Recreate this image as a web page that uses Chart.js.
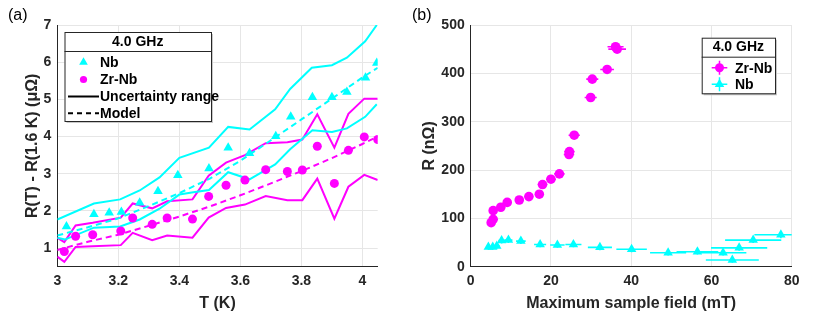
<!DOCTYPE html>
<html>
<head>
<meta charset="utf-8">
<script src="https://cdn.jsdelivr.net/npm/chart.js@4.4.1/dist/chart.umd.min.js"></script>
<style>
  html, body { margin: 0; padding: 0; background: #fff; }
  #wrap { position: relative; width: 831px; height: 312px; }
  #c1 { position: absolute; left: 0; top: 0; }
  #c2 { position: absolute; left: 405px; top: 0; }
</style>
</head>
<body>
<div id="wrap">
  <canvas id="c1" width="405" height="312" style="width:405px;height:312px"></canvas>
  <canvas id="c2" width="426" height="312" style="width:426px;height:312px"></canvas>
</div>
<script>
// ---- panel (a): R(T) - R(1.6 K) vs T ----
const nbT = [3.03, 3.12, 3.17, 3.21, 3.27, 3.33, 3.395, 3.497, 3.56, 3.63, 3.716, 3.765, 3.836, 3.90, 3.949, 4.01, 4.047];
const nbR = [1.58, 1.91, 1.95, 1.97, 2.22, 2.53, 2.96, 3.14, 3.70, 3.55, 4.01, 4.53, 5.06, 5.06, 5.20, 5.58, 5.98];
const zrT = [3.023, 3.06, 3.116, 3.208, 3.247, 3.311, 3.36, 3.443, 3.496, 3.553, 3.615, 3.683, 3.754, 3.803, 3.852, 3.908, 3.954, 4.006, 4.05];
const zrR = [0.91, 1.32, 1.36, 1.46, 1.81, 1.64, 1.81, 1.78, 2.39, 2.69, 2.83, 3.11, 3.06, 3.10, 3.74, 2.74, 3.63, 3.99, 3.92];

const nbUpT = [3.0, 3.12, 3.206, 3.27, 3.335, 3.40, 3.497, 3.56, 3.63, 3.714, 3.763, 3.834, 3.90, 3.949, 4.009, 4.047];
const nbUpper = [1.77, 2.20, 2.31, 2.55, 2.90, 3.43, 3.70, 4.26, 4.19, 4.73, 5.28, 5.85, 5.92, 6.12, 6.56, 7.0];
const nbLowT = [3.0, 3.025, 3.12, 3.206, 3.27, 3.335, 3.40, 3.446, 3.497, 3.56, 3.63, 3.714, 3.763, 3.836, 3.90, 3.949, 4.009, 4.047];
const nbLower = [1.28, 1.23, 1.55, 1.58, 1.77, 2.06, 2.44, 2.50, 2.56, 3.04, 2.85, 3.25, 3.66, 4.17, 4.12, 4.22, 4.53, 4.87];

const zrLineT = [3.0, 3.023, 3.06, 3.116, 3.208, 3.247, 3.311, 3.36, 3.443, 3.496, 3.553, 3.615, 3.683, 3.754, 3.803, 3.852, 3.908, 3.954, 4.006, 4.05];
const zrUpper = [1.28, 1.16, 1.61, 1.68, 1.82, 2.20, 2.07, 2.26, 2.31, 2.95, 3.30, 3.50, 3.82, 3.85, 3.92, 4.60, 3.70, 4.61, 5.02, 5.02];
const zrLower = [0.77, 0.63, 1.03, 1.05, 1.08, 1.41, 1.21, 1.34, 1.28, 1.82, 2.08, 2.17, 2.40, 2.29, 2.29, 2.87, 1.79, 2.65, 2.97, 2.83];

const modelT = [3.0, 3.1, 3.2, 3.3, 3.4, 3.5, 3.6, 3.7, 3.8, 3.9, 4.0, 4.05];
const nbModel = [1.34, 1.56, 1.80, 2.13, 2.48, 2.87, 3.35, 3.90, 4.46, 5.02, 5.59, 5.85];
const zrModel = [0.95, 1.17, 1.36, 1.60, 1.85, 2.12, 2.42, 2.74, 3.07, 3.42, 3.80, 4.00];

const xTicksA = [3, 3.2, 3.4, 3.6, 3.8, 4];
const yTicksA = [1, 2, 3, 4, 5, 6, 7];

// ---- panel (b): R vs maximum sample field ----
const zrField = [5.1, 5.6, 5.6, 7.5, 9.1, 12.1, 14.5, 17.1, 17.9, 20.0, 22.1, 24.5, 24.6, 25.8, 29.9, 30.3, 34.0, 36.1, 36.5];
const zrRes = [91, 98, 116, 123, 133, 138, 145, 150, 170, 181, 192, 232, 238, 272, 350, 388, 408, 455, 450];
const zrFieldErr = [0.8, 0.8, 0.8, 1, 1, 1, 1.1, 1.1, 1.2, 1.2, 1.3, 1.3, 1.3, 1.4, 1.5, 1.5, 1.7, 2, 2.2];
const zrResErr = [6, 6, 6, 6, 6, 6, 6, 6, 6, 6, 6, 7, 7, 7, 7, 7, 7, 8, 8];

const nbField = [4.4, 5.5, 6.5, 7.7, 9.4, 12.5, 17.3, 21.6, 25.6, 32.2, 40.1, 49.2, 56.5, 62.9, 65.2, 66.9, 70.4, 77.3];
const nbRes = [41, 41, 43, 54, 55, 53, 46, 45, 46, 40, 36, 29, 31, 29, 14, 39, 55, 66];
const nbFieldErr = [0.5, 0.6, 0.7, 0.8, 1, 1.2, 1.5, 1.8, 2, 3, 3.8, 4.5, 5.2, 5.8, 6.6, 7, 7, 6.6];
const nbResErr = [6, 6, 6, 6, 6, 6, 6, 6, 6, 6, 6, 6, 6, 6, 6, 6, 6, 7];

const xTicksB = [0, 20, 40, 60, 80];
const yTicksB = [0, 100, 200, 300, 400, 500];

const cyan = "#00ffff";
const magenta = "#ff00ff";
const ink = "#262626";
const FONT = "'Liberation Sans', Arial, sans-serif";

function xy(xs, ys) {
  return xs.map((x, i) => ({ x: x, y: ys[i] }));
}

function tickFont() {
  return { family: FONT, size: 14, weight: "bold" };
}

function axis(min, max, ticks, title, fit) {
  return {
    type: "linear",
    min: min,
    max: max,
    afterBuildTicks: (s) => { s.ticks = ticks.map((v) => ({ value: v })); },
    afterFit: fit,
    grid: { color: "#e6e6e6", drawTicks: false },
    border: { color: ink, width: 1 },
    ticks: { padding: 6, color: ink, font: tickFont(), callback: (v) => String(v) },
    title: { display: true, text: title, color: ink, padding: 0,
             font: { family: FONT, size: 16, weight: "bold", lineHeight: 1 } },
  };
}

// legend box in the MATLAB style, drawn on the canvas
function drawLegend(ctx, L) {
  ctx.save();
  ctx.fillStyle = "#c8c8c8";
  ctx.fillRect(L.x + 2, L.y + 2, L.w, L.h);
  ctx.fillStyle = "#fff";
  ctx.fillRect(L.x, L.y, L.w, L.h);
  ctx.strokeStyle = ink;
  ctx.lineWidth = 1;
  ctx.strokeRect(L.x + 0.5, L.y + 0.5, L.w, L.h);
  ctx.beginPath();
  ctx.moveTo(L.x, L.sep + 0.5);
  ctx.lineTo(L.x + L.w, L.sep + 0.5);
  ctx.stroke();

  ctx.fillStyle = "#000";
  ctx.font = "bold 14px " + FONT;
  ctx.textBaseline = "middle";
  ctx.textAlign = "center";
  ctx.fillText(L.title, L.x + L.w / 2, L.titleY);
  ctx.textAlign = "left";

  L.entries.forEach((e) => {
    const cx = (L.lineX0 + L.lineX1) / 2;
    ctx.strokeStyle = e.color;
    ctx.fillStyle = e.color;
    if (e.kind === "line" || e.kind === "dash" || e.bars) {
      ctx.lineWidth = e.bars ? 1.5 : 2;
      ctx.setLineDash(e.kind === "dash" ? [5, 4] : []);
      ctx.beginPath();
      ctx.moveTo(L.lineX0, e.y);
      ctx.lineTo(L.lineX1, e.y);
      if (e.bars) {
        ctx.moveTo(cx, e.y - 7);
        ctx.lineTo(cx, e.y + 7);
      }
      ctx.stroke();
      ctx.setLineDash([]);
    }
    if (e.kind === "triangle") {
      const r = e.r;
      ctx.beginPath();
      ctx.moveTo(cx, e.y - r);
      ctx.lineTo(cx + r * 0.866, e.y + r * 0.5);
      ctx.lineTo(cx - r * 0.866, e.y + r * 0.5);
      ctx.closePath();
      ctx.fill();
    }
    if (e.kind === "circle") {
      ctx.beginPath();
      ctx.arc(cx, e.y, e.r, 0, Math.PI * 2);
      ctx.fill();
    }
    ctx.fillStyle = "#000";
    ctx.fillText(e.text, L.textX, e.y + 1);
  });
  ctx.restore();
}

const decor = {
  id: "decor",
  afterDraw(chart, args, opts) {
    const ctx = chart.ctx;
    ctx.save();
    ctx.fillStyle = "#000";
    ctx.font = "16px " + FONT;
    ctx.textBaseline = "middle";
    ctx.textAlign = "left";
    ctx.fillText(opts.label, opts.labelX, 16);
    ctx.restore();
    drawLegend(ctx, opts.legend);
  },
};

const errorBars = {
  id: "errorBars",
  beforeDatasetsDraw(chart) {
    const ctx = chart.ctx;
    const xs = chart.scales.x;
    const ys = chart.scales.y;
    const a = chart.chartArea;
    ctx.save();
    ctx.beginPath();
    ctx.rect(a.left, a.top, a.right - a.left, a.bottom - a.top);
    ctx.clip();
    chart.data.datasets.forEach((ds) => {
      if (!ds.xErr) return;
      ctx.strokeStyle = ds.backgroundColor;
      ctx.lineWidth = 1.6;
      ctx.beginPath();
      ds.data.forEach((p, i) => {
        const px = xs.getPixelForValue(p.x);
        const py = ys.getPixelForValue(p.y);
        ctx.moveTo(xs.getPixelForValue(p.x - ds.xErr[i]), py);
        ctx.lineTo(xs.getPixelForValue(p.x + ds.xErr[i]), py);
        ctx.moveTo(px, ys.getPixelForValue(p.y - ds.yErr[i]));
        ctx.lineTo(px, ys.getPixelForValue(p.y + ds.yErr[i]));
      });
      ctx.stroke();
    });
    ctx.restore();
  },
};

function band(xs, ys, color, dash) {
  return { data: xy(xs, ys), showLine: true, borderColor: color, borderWidth: 2,
           borderDash: dash || [], pointRadius: 0, backgroundColor: color };
}

new Chart(document.getElementById("c1"), {
  type: "scatter",
  data: {
    datasets: [
      { data: xy(nbT, nbR), pointStyle: "triangle", pointRadius: 5.5, backgroundColor: cyan, borderWidth: 0 },
      { data: xy(zrT, zrR), pointStyle: "circle", pointRadius: 4.5, backgroundColor: magenta, borderWidth: 0 },
      band(nbUpT, nbUpper, cyan),
      band(nbLowT, nbLower, cyan),
      band(modelT, nbModel, cyan, [6, 4]),
      band(zrLineT, zrUpper, magenta),
      band(zrLineT, zrLower, magenta),
      band(modelT, zrModel, magenta, [6, 4]),
    ],
  },
  options: {
    responsive: false,
    animation: false,
    layout: { padding: { left: 25, top: 25, right: 27.3, bottom: 0 } },
    plugins: {
      legend: { display: false },
      tooltip: { enabled: false },
      decor: {
        label: "(a)",
        labelX: 8,
        legend: {
          x: 64.5, y: 32, w: 146.5, h: 89, sep: 51, title: "4.0 GHz", titleY: 42.5,
          lineX0: 68, lineX1: 99, textX: 100,
          entries: [
            { kind: "triangle", color: cyan, r: 5, y: 62.3, text: "Nb" },
            { kind: "circle", color: magenta, r: 3.6, y: 79.5, text: "Zr-Nb" },
            { kind: "line", color: "#000", y: 96.5, text: "Uncertainty range" },
            { kind: "dash", color: "#000", y: 113.3, text: "Model" },
          ],
        },
      },
    },
    scales: {
      x: axis(3, 4.05, xTicksA, "T (K)", (s) => { s.height = 45.3; }),
      y: axis(0.5, 7, yTicksA, "R(T) - R(1.6 K) (μΩ)", (s) => { s.width = 32.3; }),
    },
  },
  plugins: [decor],
});

new Chart(document.getElementById("c2"), {
  type: "scatter",
  data: {
    datasets: [
      { data: xy(zrField, zrRes), xErr: zrFieldErr, yErr: zrResErr, pointStyle: "circle",
        pointRadius: 4.8, backgroundColor: magenta, borderWidth: 0 },
      { data: xy(nbField, nbRes), xErr: nbFieldErr, yErr: nbResErr, pointStyle: "triangle",
        pointRadius: 5.5, backgroundColor: cyan, borderWidth: 0 },
    ],
  },
  options: {
    responsive: false,
    animation: false,
    layout: { padding: { left: 17, top: 25, right: 39.3, bottom: 0 } },
    plugins: {
      legend: { display: false },
      tooltip: { enabled: false },
      decor: {
        label: "(b)",
        labelX: 7,
        legend: {
          x: 296.7, y: 37.7, w: 73.3, h: 55.6, sep: 56.7, title: "4.0 GHz", titleY: 47.5,
          lineX0: 306.7, lineX1: 322.3, textX: 330,
          entries: [
            { kind: "circle", bars: true, color: magenta, r: 4.5, y: 67.7, text: "Zr-Nb" },
            { kind: "triangle", bars: true, color: cyan, r: 5.5, y: 84.3, text: "Nb" },
          ],
        },
      },
    },
    scales: {
      x: axis(0, 80, xTicksB, "Maximum sample field (mT)", (s) => { s.height = 45.3; }),
      y: axis(0, 500, yTicksB, "R (nΩ)", (s) => { s.width = 48.7; }),
    },
  },
  plugins: [errorBars, decor],
});
</script>
</body>
</html>
